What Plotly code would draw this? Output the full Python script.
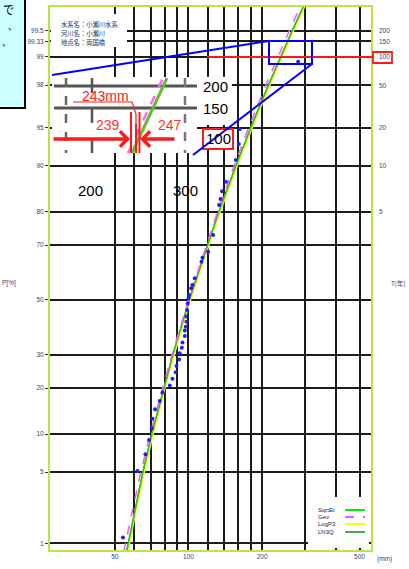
import plotly.graph_objects as go
from statistics import NormalDist

# ---------------- data ----------------
prob_pct = [0.8, 1, 2, 5, 10, 20, 30, 50, 70, 80, 90, 95, 98, 99, 99.5, 99.8]
sqrtet_mm = [55.9, 56.8, 59.9, 65.2, 70.9, 79.2, 86.4, 100.8, 119.4, 133.1, 156.3, 179.7, 212.3, 238.3, 265.9, 304.8]
gev_mm = [54.4, 55.3, 58.5, 63.9, 69.8, 78.4, 85.6, 100.0, 118.1, 131.3, 153.6, 176.0, 207.1, 232.0, 258.5, 296.0]
logp3_mm = [56.3, 57.2, 60.3, 65.7, 71.4, 79.8, 87.0, 101.5, 120.2, 134.0, 157.4, 181.0, 213.8, 240.0, 267.8, 306.9]
ln3q_mm = [55.7, 56.6, 59.7, 65.0, 70.7, 79.0, 86.1, 100.5, 119.0, 132.7, 155.8, 179.2, 211.7, 237.6, 265.1, 303.9]

obs_mm = [280.7, 162.1, 160.6, 156.1, 142.1, 137.3, 135.2, 133.4, 126.1, 120.3, 114.1, 113.0,
          106.1, 103.8, 102.5, 100.6, 100.0, 99.3, 98.7, 98.1, 98.1, 97.5, 96.6, 96.6, 94.5,
          93.9, 92.1, 91.5, 89.3, 88.7, 86.0, 83.9, 78.3, 76.3, 73.0, 71.3, 70.8, 69.0, 66.7,
          61.9, 54.0]
obs_pct = [98.86, 94.9, 93.2, 90.96, 87.1, 85.1, 83.3, 81.8, 73.3, 67.8, 65.7, 64.3,
           58.2, 55.7, 54.5, 51.9, 50.6, 48.7, 46.2, 43.7, 41.8, 39.9, 38.5, 36.5, 34.2,
           32.4, 30.5, 28.5, 26.4, 24.5, 22.6, 20.7, 18.8, 16.7, 14.8, 12.8, 11.0, 9.04, 7.01,
           5.1, 1.16]

p_ticks = [1, 5, 10, 20, 30, 50, 70, 80, 90, 95, 98, 99, 99.33, 99.5]
p_ticktext = ["1", "5", "10", "20", "30", "50", "70", "80", "90", "95", "98", "99", "99.33", "99.5"]
t_ticks_p = [80, 90, 95, 98, 99, 99.33, 99.5]
t_ticktext = ["5", "10", "20", "50", "100", "150", "200"]
x_grid = [50, 60, 70, 80, 90, 100, 120, 140, 160, 180, 200, 300, 400, 500]
x_ticktext = ["50", "", "", "", "", "100", "", "", "", "", "200", "", "", "500"]

legend_names = ["SqrtEt", "Gev", "LogP3", "LN3Q"]
legend_colors = ["#00ee00", "#ff55ff", "#ffff00", "#4ea84e"]
legend_dash = ["solid", "dash", "solid", "solid"]

info_lines = ["水系名：小瀬川水系", "河川名：小瀬川", "地点名：両国橋"]

# ---------------- helpers ----------------
nd = NormalDist()


def zq(p):
    return nd.inv_cdf(p / 100.0)


W, H = 409, 569
ML, MR, MT, MB = 49, 37, 6, 18
PW, PH = W - ML - MR, H - MT - MB


def fx(px):
    return (px - ML) / PW


def fy(py):
    return (H - MB - py) / PH


shapes = []


def seg(x0, y0, x1, y1, color, width, dash="solid"):
    shapes.append(dict(type="line", xref="paper", yref="paper", layer="above",
                       x0=fx(x0), y0=fy(y0), x1=fx(x1), y1=fy(y1),
                       line=dict(color=color, width=width, dash=dash)))


def rect(x0, y0, x1, y1, fill="white", color=None, width=0):
    shapes.append(dict(type="rect", xref="paper", yref="paper", layer="above",
                       x0=fx(x0), y0=fy(y0), x1=fx(x1), y1=fy(y1),
                       fillcolor=fill,
                       line=dict(color=color if color else "rgba(0,0,0,0)", width=width)))


annotations = []


def text(px, py, s, size=7, color="black", xanchor="center", family="Liberation Sans"):
    annotations.append(dict(x=fx(px), y=fy(py), xref="paper", yref="paper", text=s,
                            showarrow=False, xanchor=xanchor, yanchor="middle",
                            font=dict(size=size, color=color, family=family)))


# ---------------- traces ----------------
fig = go.Figure()
zs = [zq(p) for p in prob_pct]
order = [("LogP3", logp3_mm, "#ffff00", 2.4, "solid"),
         ("SqrtEt", sqrtet_mm, "#00ee00", 1.5, "solid"),
         ("LN3Q", ln3q_mm, "#4ea84e", 1.2, "solid"),
         ("Gev", gev_mm, "#ff55ff", 1.5, "dash")]
for name, vals, col, w, d in order:
    fig.add_trace(go.Scatter(x=vals, y=zs, mode="lines", name=name,
                             line=dict(color=col, width=w, dash=d), showlegend=False))

fig.add_trace(go.Scatter(x=obs_mm, y=[zq(p) for p in obs_pct], mode="markers",
                         marker=dict(color="#1f1fff", size=4), showlegend=False))

# ---------------- overlays ----------------
shapes.append(dict(type="rect", xref="paper", yref="paper", layer="above",
                   x0=0, y0=0, x1=1, y1=1, line=dict(color="#b8e34a", width=2)))
rect(51, 14, 127, 47)            # info text box
rect(52, 77, 197, 153)           # inset
rect(197, 77, 232, 125)          # label area
rect(308, 497, 369, 548)         # legend box
rect(203, 129, 233, 149, "white", "#ff1a1a", 2)

# inset contents
seg(54, 86, 197, 86, "#555555", 3)
seg(54, 108, 197, 108, "#555555", 3)
seg(66, 78, 66, 153, "#666666", 2.5, "dash")
seg(92, 78, 92, 153, "#555555", 2.5, "longdash")
seg(185, 78, 185, 153, "#777777", 2.5, "dash")
seg(128, 153, 163, 78, "#ff66ff", 2.5, "dash")
seg(132, 153, 167, 78, "#66bb33", 3)
shapes.append(dict(type="path", xref="paper", yref="paper", layer="above",
                   path="M {} {} L {} {} L {} {} L {} {}".format(
                       fx(73), fy(102), fx(132), fy(102), fx(136), fy(114), fx(136), fy(153)),
                   line=dict(color="#ff1a1a", width=1.2)))
seg(131, 112, 131, 153, "#ff1a1a", 2)
seg(139.5, 112, 139.5, 153, "#ff1a1a", 2)
seg(136, 124, 136, 153, "#ff1a1a", 2)

# red 100-year line and box
seg(207, 57, 373, 57, "#ff1a1a", 2.2)
rect(373, 52, 392, 63, "white", "#ff1a1a", 1.8)

# blue zoom indicator
rect(269, 41, 312, 64, "rgba(0,0,0,0)", "#0000ff", 2)
seg(52, 75, 269, 41, "#0000ff", 2)
seg(193, 155, 312, 64, "#0000ff", 2)

# cyan callout (cut off)
rect(-4, -4, 25, 108, "#ccffff", "black", 2)

# legend samples
leg_y = [510, 517, 524, 532]
for yy, c, d in zip(leg_y, legend_colors, legend_dash):
    seg(345, yy, 365, yy, c, 2, d)

# ---------------- annotations ----------------
for i, s in enumerate(info_lines):
    text(59, 25 + i * 8.5, s, 6.3, "#223366", "left", "Noto Sans CJK JP")

text(105, 96, "243mm", 14, "#ff2020")
text(108, 125, "239", 14, "#ff3030")
text(170, 125, "247", 14, "#ff3030")
annotations.append(dict(x=fx(130), y=fy(139), xref="paper", yref="paper", text="",
                        showarrow=True, ax=-78, ay=0, arrowhead=4, arrowsize=0.85,
                        arrowwidth=3.5, arrowcolor="#ff1a1a", standoff=0))
annotations.append(dict(x=fx(140), y=fy(139), xref="paper", yref="paper", text="",
                        showarrow=True, ax=36, ay=0, arrowhead=4, arrowsize=0.85,
                        arrowwidth=3.5, arrowcolor="#ff1a1a", standoff=0))

text(215, 86, "200", 15)
text(215, 109, "150", 15)
text(218, 139, "100", 15)
text(90, 190, "200", 15)
text(185, 190, "300", 15)

for p, s in zip(t_ticks_p, t_ticktext):
    annotations.append(dict(x=fx(377), y=zq(p), xref="paper", yref="y", text=s,
                            showarrow=False, xanchor="left", yanchor="middle",
                            font=dict(size=6.5, color="#334477", family="Liberation Sans")))
text(398, 283, "T[年]", 6.3, "#334477", "center", "Noto Sans CJK JP")
text(9, 283, "P[%]", 6.5, "#334477")
text(384, 559, "(mm)", 6.5, "#334477")

for yy, nm in zip(leg_y, legend_names):
    text(316, yy, nm, 6, "#222244", "left")

text(8, 9, "で", 11, "black", "center", "Noto Sans CJK JP")
text(12, 27, "、", 9, "black", "center", "Noto Sans CJK JP")
text(6, 43, "、", 9, "black", "center", "Noto Sans CJK JP")

# ---------------- layout ----------------
fig.update_layout(
    width=W, height=H,
    margin=dict(l=ML, r=MR, t=MT, b=MB, pad=0),
    plot_bgcolor="white", paper_bgcolor="white",
    shapes=shapes, annotations=annotations,
    xaxis=dict(type="log", range=[1.430, 2.750], tickvals=x_grid, ticktext=x_ticktext,
               showgrid=True, gridcolor="#1c1c1c", gridwidth=1.6, zeroline=False,
               showline=False, ticks="", automargin=False,
               tickfont=dict(size=6.5, color="#334477", family="Liberation Sans")),
    yaxis=dict(range=[-2.400, 2.811], tickvals=[zq(p) for p in p_ticks], ticktext=p_ticktext,
               showgrid=True, gridcolor="#1c1c1c", gridwidth=1.6, zeroline=False,
               showline=False, ticks="outside", ticklen=3, tickcolor="#333333",
               automargin=False,
               tickfont=dict(size=6.5, color="#334477", family="Liberation Sans")),
)

fig.write_html("out.html", config={"displayModeBar": False},
               post_script="document.body.style.margin='0px';document.body.style.overflow='hidden';")
